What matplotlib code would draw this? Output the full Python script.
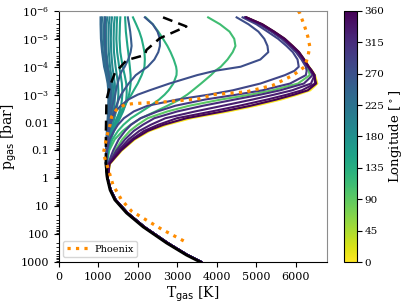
import numpy as np
import matplotlib
matplotlib.use('Agg')
import matplotlib.pyplot as plt
from matplotlib import colors
from matplotlib.ticker import FixedLocator, FixedFormatter, LogLocator, NullFormatter

plt.rcParams['font.family'] = 'serif'
plt.rcParams['font.serif'] = ['DejaVu Serif']

# pressure levels [bar] of the upper atmosphere and the deep part
p_up = [1.7e-6, 3e-6, 5.5e-6, 1e-5, 1.8e-5, 3e-5, 5.5e-5, 1e-4, 1.4e-4, 2e-4, 4e-4,
        7e-4, 1e-3, 1.5e-3, 2.5e-3, 4e-3, 7e-3, 1.2e-2, 2e-2, 4e-2, 0.1, 0.3]
p_deep = [1, 2.6, 5.9, 17.4, 55, 209, 562, 1000]
T_deep = [1240, 1315, 1440, 1740, 2165, 2760, 3260, 3610]

# temperature profiles [K] in the upper part, one per longitude [deg]
T_000 = [4740, 5140, 5440, 5710, 5910, 6070, 6210, 6330, 6410, 6480, 6540, 6360, 6040, 5620, 4980, 4290, 3350, 2730, 2300, 1930, 1600, 1300]
T_015 = [4745, 5145, 5440, 5715, 5910, 6075, 6210, 6330, 6400, 6470, 6520, 6300, 5960, 5520, 4880, 4180, 3250, 2660, 2260, 1905, 1585, 1292]
T_090 = [4720, 5100, 5400, 5660, 5860, 6020, 6160, 6270, 6320, 6350, 6050, 5400, 4850, 4100, 3300, 2750, 2250, 2000, 1800, 1610, 1430, 1265]
T_110 = [3780, 4080, 4320, 4440, 4470, 4400, 4270, 4100, 3960, 3850, 3600, 3390, 3250, 3060, 2750, 2450, 2080, 1820, 1620, 1420, 1280, 1215]
T_125 = [2200, 2380, 2520, 2640, 2750, 2830, 2910, 2970, 2985, 2980, 2900, 2780, 2680, 2540, 2320, 2100, 1830, 1640, 1500, 1360, 1260, 1210]
T_140 = [1880, 1960, 2040, 2100, 2140, 2170, 2180, 2170, 2140, 2100, 2000, 1900, 1840, 1760, 1660, 1570, 1470, 1400, 1340, 1280, 1230, 1205]
T_150 = [1680, 1690, 1700, 1720, 1740, 1760, 1780, 1800, 1810, 1820, 1820, 1800, 1780, 1740, 1680, 1610, 1520, 1440, 1370, 1300, 1240, 1210]
T_160 = [1560, 1550, 1545, 1540, 1550, 1560, 1590, 1620, 1645, 1670, 1710, 1720, 1720, 1710, 1680, 1630, 1550, 1470, 1400, 1320, 1250, 1215]
T_170 = [1480, 1470, 1465, 1460, 1470, 1480, 1505, 1530, 1550, 1570, 1600, 1610, 1610, 1600, 1580, 1540, 1480, 1420, 1360, 1300, 1240, 1210]
T_180 = [1420, 1400, 1395, 1390, 1395, 1400, 1420, 1440, 1455, 1470, 1500, 1510, 1510, 1500, 1480, 1450, 1410, 1370, 1330, 1280, 1235, 1210]
T_190 = [1350, 1330, 1325, 1320, 1325, 1330, 1345, 1360, 1375, 1390, 1420, 1430, 1430, 1420, 1410, 1390, 1360, 1330, 1300, 1265, 1230, 1205]
T_200 = [1290, 1270, 1265, 1260, 1265, 1270, 1285, 1300, 1315, 1330, 1370, 1380, 1380, 1375, 1365, 1350, 1330, 1305, 1280, 1250, 1225, 1205]
T_210 = [1230, 1210, 1205, 1200, 1205, 1210, 1230, 1250, 1270, 1290, 1330, 1340, 1345, 1340, 1330, 1320, 1300, 1280, 1260, 1240, 1220, 1200]
T_220 = [1160, 1150, 1145, 1140, 1150, 1160, 1180, 1200, 1225, 1250, 1290, 1300, 1305, 1300, 1295, 1285, 1270, 1255, 1240, 1225, 1210, 1200]
T_230 = [1100, 1090, 1090, 1090, 1105, 1120, 1145, 1170, 1195, 1220, 1260, 1275, 1280, 1275, 1270, 1260, 1250, 1240, 1230, 1215, 1205, 1195]
T_240 = [1060, 1060, 1065, 1070, 1085, 1100, 1125, 1150, 1175, 1200, 1240, 1255, 1260, 1258, 1255, 1250, 1240, 1230, 1220, 1210, 1200, 1195]
T_250 = [1180, 1170, 1170, 1170, 1180, 1190, 1210, 1230, 1250, 1270, 1300, 1310, 1315, 1310, 1300, 1290, 1275, 1260, 1245, 1230, 1210, 1200]
T_255 = [1750, 1780, 1810, 1830, 1845, 1820, 1760, 1670, 1600, 1550, 1490, 1450, 1430, 1400, 1360, 1330, 1300, 1275, 1255, 1235, 1215, 1200]
T_265 = [2180, 2380, 2500, 2560, 2560, 2520, 2420, 2250, 2100, 1950, 1770, 1650, 1580, 1520, 1460, 1400, 1340, 1290, 1260, 1235, 1210, 1200]
T_275 = [4500, 4800, 5050, 5200, 5280, 5300, 5100, 4600, 3950, 3500, 2800, 2300, 2000, 1760, 1570, 1440, 1360, 1310, 1270, 1230, 1210, 1200]
T_285 = [4650, 5000, 5280, 5550, 5760, 5920, 6040, 6070, 5960, 5720, 5100, 4400, 3800, 3000, 2250, 1900, 1650, 1500, 1400, 1290, 1220, 1200]
T_300 = [4700, 5080, 5380, 5640, 5840, 6000, 6140, 6250, 6270, 6250, 5850, 5150, 4500, 3700, 2950, 2500, 2070, 1830, 1680, 1520, 1380, 1250]
T_315 = [4720, 5100, 5400, 5670, 5870, 6040, 6180, 6300, 6360, 6420, 6200, 5600, 5100, 4450, 3650, 3000, 2420, 2130, 1900, 1680, 1460, 1270]
T_330 = [4730, 5120, 5420, 5690, 5890, 6060, 6200, 6320, 6400, 6470, 6380, 5900, 5450, 4900, 4150, 3450, 2700, 2330, 2040, 1770, 1510, 1275]
T_345 = [4740, 5140, 5440, 5710, 5900, 6070, 6200, 6320, 6400, 6470, 6480, 6150, 5770, 5270, 4570, 3870, 2990, 2520, 2160, 1850, 1550, 1280]
T_360 = [4750, 5150, 5450, 5720, 5920, 6080, 6210, 6320, 6400, 6460, 6510, 6300, 5950, 5500, 4850, 4150, 3230, 2650, 2250, 1900, 1580, 1290]

profiles = [(0, T_000), (15, T_015), (90, T_090), (110, T_110), (125, T_125),
            (140, T_140), (150, T_150), (160, T_160), (170, T_170), (180, T_180),
            (190, T_190), (200, T_200), (210, T_210), (220, T_220), (230, T_230),
            (240, T_240), (250, T_250), (255, T_255), (265, T_265), (275, T_275),
            (285, T_285), (300, T_300), (315, T_315), (330, T_330), (345, T_345),
            (360, T_360)]

# black reference profile: dashed in the upper part, solid in the deep
p_dash = [1.7e-6, 3.6e-6, 9.5e-6, 2.5e-5, 3.8e-5, 5.8e-5, 1.7e-4, 5.1e-4, 1.55e-3, 2.3e-2, 0.3, 1]
T_dash = [2640, 3230, 2560, 2220, 2180, 1720, 1420, 1295, 1210, 1195, 1195, 1230]
p_solid = [0.3, 1, 2.6, 5.9, 17.4, 55, 209, 562, 1000]
T_solid = [1195, 1230, 1300, 1420, 1715, 2135, 2730, 3230, 3580]

# Phoenix profile
p_phx = [1e-6, 1.2e-6, 3.6e-6, 8.3e-6, 1.9e-5, 4.4e-5, 1e-4, 2e-4, 4.6e-4, 7.9e-4,
         1e-3, 1.4e-3, 1.8e-3, 2.1e-3, 2.3e-3, 3.5e-3, 6.2e-3, 1.2e-2, 3.5e-2,
         7.2e-2, 0.126, 0.44, 1.74, 5.9, 14.8, 26.3, 66, 200]
T_phx = [6060, 6095, 6220, 6300, 6350, 6300, 6220, 5930, 5420, 4750,
         3900, 3570, 2730, 1880, 1670, 1460, 1340, 1300, 1210,
         1170, 1130, 1250, 1375, 1590, 1840, 2130, 2600, 3240]

lon_ticks = [0, 45, 90, 135, 180, 225, 270, 315, 360]
T_ticks = [0, 1000, 2000, 3000, 4000, 5000, 6000]
p_ticks = [1e-6, 1e-5, 1e-4, 1e-3, 1e-2, 0.1, 1, 10, 100, 1000]
p_labels = [r'$\mathdefault{10^{-6}}$', r'$\mathdefault{10^{-5}}$',
            r'$\mathdefault{10^{-4}}$', r'$\mathdefault{10^{-3}}$',
            '0.01', '0.1', '1', '10', '100', '1000']

fig = plt.figure(figsize=(4.07, 3.04), dpi=100)
ax = fig.add_axes([0.144, 0.138, 0.659, 0.826])
cax = fig.add_axes([0.845, 0.138, 0.032, 0.826])

cmap = plt.get_cmap('viridis_r')
norm = colors.Normalize(vmin=0, vmax=360)

for lon, T in profiles:
    ax.plot(T + T_deep, p_up + p_deep, color=cmap(norm(lon)), lw=1.5)

ax.plot(T_solid, p_solid, color='black', lw=2.0)
ax.plot(T_dash, p_dash, color='black', lw=1.8, ls=(0, (4, 2.5)))
ax.plot(T_phx, p_phx, color='darkorange', lw=2.3, ls=':', label='Phoenix')

ax.set_yscale('log')
ax.set_ylim(1000, 1e-6)
ax.set_xlim(0, 6780)
ax.yaxis.set_major_locator(FixedLocator(p_ticks))
ax.yaxis.set_major_formatter(FixedFormatter(p_labels))
ax.yaxis.set_minor_locator(LogLocator(base=10, subs=np.arange(2, 10), numticks=20))
ax.yaxis.set_minor_formatter(NullFormatter())
ax.set_xticks(T_ticks)
ax.tick_params(labelsize=8)
ax.tick_params(which='minor', length=2)

for s in ['top', 'right']:
    ax.spines[s].set_color('#8c8c8c')

ax.set_xlabel(r'T$_\mathrm{gas}$ [K]', fontsize=10, labelpad=2)
ax.set_ylabel(r'p$_\mathrm{gas}$ [bar]', fontsize=10, labelpad=1)
ax.legend(loc='lower left', fontsize=7, handlelength=2.2, borderpad=0.35,
          handletextpad=0.6)

sm = plt.cm.ScalarMappable(cmap=cmap, norm=norm)
cb = fig.colorbar(sm, cax=cax, ticks=lon_ticks)
cb.ax.tick_params(labelsize=7.5, pad=2)
cb.set_label('Longitude [$^\\circ$]', fontsize=9.5, labelpad=2)

fig.savefig('out.png', dpi=100)
